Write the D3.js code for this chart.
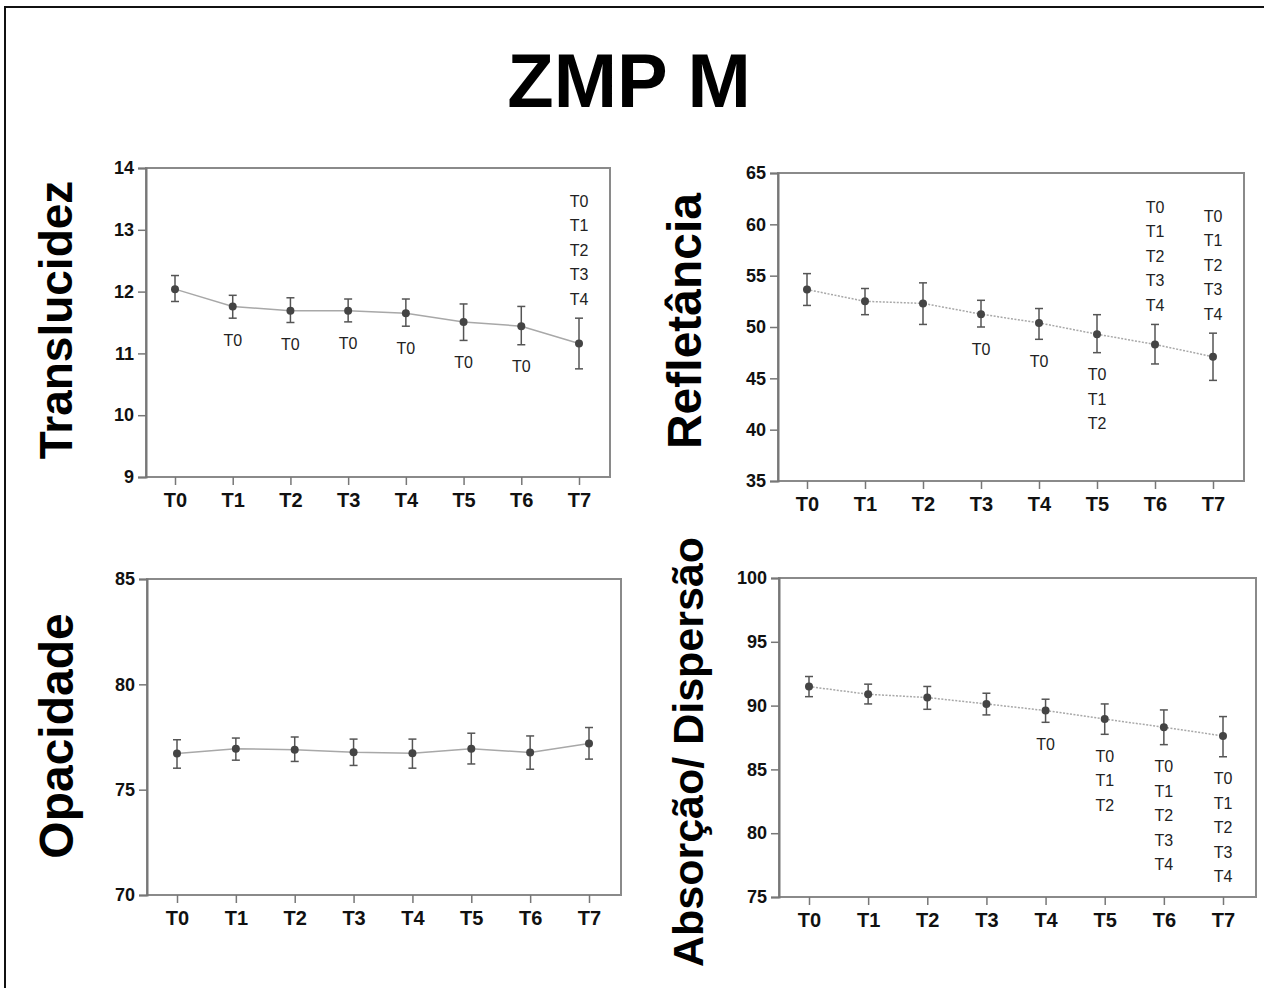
<!DOCTYPE html>
<html>
<head>
<meta charset="utf-8">
<script src="https://cdn.jsdelivr.net/npm/d3@7"></script>
<style>
  body { margin: 0; background: #fff; }
  svg { display: block; font-family: "Liberation Sans", Arial, sans-serif; }
</style>
</head>
<body>
<svg id="chart" width="1264" height="988"></svg>
<script>
// ── data ───────────────────────────────────────────────────────
const categories = ["T0", "T1", "T2", "T3", "T4", "T5", "T6", "T7"];

const translucidezMean = [12.04, 11.76, 11.69, 11.69, 11.65, 11.51, 11.44, 11.16];
const translucidezLow  = [11.84, 11.57, 11.50, 11.51, 11.44, 11.21, 11.14, 10.75];
const translucidezHigh = [12.26, 11.94, 11.90, 11.88, 11.88, 11.80, 11.76, 11.57];

const refletanciaMean = [53.65, 52.5, 52.3, 51.25, 50.4, 49.3, 48.3, 47.1];
const refletanciaLow  = [52.1, 51.2, 50.25, 50.0, 48.8, 47.5, 46.4, 44.8];
const refletanciaHigh = [55.2, 53.75, 54.3, 52.6, 51.8, 51.2, 50.25, 49.4];

const opacidadeMean = [76.72, 76.94, 76.90, 76.78, 76.73, 76.94, 76.77, 77.19];
const opacidadeLow  = [76.02, 76.40, 76.34, 76.15, 76.02, 76.22, 75.97, 76.45];
const opacidadeHigh = [77.37, 77.45, 77.50, 77.40, 77.40, 77.68, 77.55, 77.95];

const absorcaoMean = [91.49, 90.89, 90.63, 90.13, 89.61, 88.95, 88.30, 87.62];
const absorcaoLow  = [90.70, 90.13, 89.71, 89.27, 88.69, 87.75, 86.94, 85.99];
const absorcaoHigh = [92.28, 91.68, 91.50, 90.97, 90.50, 90.13, 89.66, 89.14];

// significance letters: [category, side, labels]
const translucidezSig = [
  ["T1", "below", ["T0"]], ["T2", "below", ["T0"]], ["T3", "below", ["T0"]],
  ["T4", "below", ["T0"]], ["T5", "below", ["T0"]], ["T6", "below", ["T0"]],
  ["T7", "above", ["T0", "T1", "T2", "T3", "T4"]]
];
const refletanciaSig = [
  ["T3", "below", ["T0"]], ["T4", "below", ["T0"]],
  ["T5", "below", ["T0", "T1", "T2"]],
  ["T6", "above", ["T0", "T1", "T2", "T3", "T4"]],
  ["T7", "above", ["T0", "T1", "T2", "T3", "T4"]]
];
const opacidadeSig = [];
const absorcaoSig = [
  ["T4", "below", ["T0"]],
  ["T5", "below", ["T0", "T1", "T2"]],
  ["T6", "below", ["T0", "T1", "T2", "T3", "T4"]],
  ["T7", "below", ["T0", "T1", "T2", "T3", "T4"]]
];

const translucidezTicks = [9, 10, 11, 12, 13, 14];
const refletanciaTicks  = [35, 40, 45, 50, 55, 60, 65];
const opacidadeTicks    = [70, 75, 80, 85];
const absorcaoTicks     = [75, 80, 85, 90, 95, 100];

// ── layout ─────────────────────────────────────────────────────
const panels = [
  { title: "Translucidez", titleX: 56, titleY: 320, titleSize: 46,
    box: [146, 168, 610, 477], xr: [175, 579], dash: null,
    mean: translucidezMean, low: translucidezLow, high: translucidezHigh,
    ticks: translucidezTicks, sig: translucidezSig },
  { title: "Refletância", titleX: 684, titleY: 321, titleSize: 48,
    box: [778, 173, 1244, 481], xr: [807, 1213], dash: "2,1.5",
    mean: refletanciaMean, low: refletanciaLow, high: refletanciaHigh,
    ticks: refletanciaTicks, sig: refletanciaSig },
  { title: "Opacidade", titleX: 56, titleY: 736, titleSize: 48,
    box: [147, 579, 621, 895], xr: [177, 589], dash: null,
    mean: opacidadeMean, low: opacidadeLow, high: opacidadeHigh,
    ticks: opacidadeTicks, sig: opacidadeSig },
  { title: "Absorção/ Dispersão", titleX: 688, titleY: 752, titleSize: 43,
    box: [779, 578, 1256, 897], xr: [809, 1223], dash: "2,1.5",
    mean: absorcaoMean, low: absorcaoLow, high: absorcaoHigh,
    ticks: absorcaoTicks, sig: absorcaoSig }
];

const svg = d3.select("#chart");

// outer frame (right / bottom edges fall outside the picture)
svg.append("rect")
  .attr("x", 5).attr("y", 7)
  .attr("width", 1270).attr("height", 1000)
  .attr("fill", "none").attr("stroke", "#111").attr("stroke-width", 2);

svg.append("text")
  .attr("x", 629).attr("y", 107)
  .attr("text-anchor", "middle")
  .attr("font-size", 76).attr("font-weight", "bold")
  .attr("fill", "#000")
  .text("ZMP M");

panels.forEach(p => {
  const [x0, y0, x1, y1] = p.box;
  const x = d3.scalePoint().domain(categories).range(p.xr);
  const y = d3.scaleLinear().domain(d3.extent(p.ticks)).range([y1, y0]);
  const g = svg.append("g");

  // plot frame
  g.append("rect")
    .attr("x", x0).attr("y", y0)
    .attr("width", x1 - x0).attr("height", y1 - y0)
    .attr("fill", "#fff").attr("stroke", "#8a8a8a").attr("stroke-width", 2);

  // axes
  g.append("g")
    .attr("transform", `translate(${x0},0)`)
    .call(d3.axisLeft(y).tickValues(p.ticks).tickFormat(d3.format("d"))
      .tickSize(8).tickPadding(4))
    .call(a => a.select(".domain").attr("stroke", "#777").attr("stroke-width", 2))
    .call(a => a.selectAll("line").attr("stroke", "#777").attr("stroke-width", 1.5))
    .call(a => a.selectAll("text").attr("font-size", 18).attr("font-weight", "bold")
      .attr("fill", "#111").attr("font-family", "Liberation Sans, Arial, sans-serif"));

  g.append("g")
    .attr("transform", `translate(0,${y1})`)
    .call(d3.axisBottom(x).tickSize(8).tickPadding(8))
    .call(a => a.select(".domain").remove())
    .call(a => a.selectAll("line").attr("stroke", "#777").attr("stroke-width", 1.5))
    .call(a => a.selectAll("text").attr("font-size", 20).attr("font-weight", "bold")
      .attr("fill", "#111").attr("font-family", "Liberation Sans, Arial, sans-serif"));

  // y title
  g.append("text")
    .attr("transform", `translate(${p.titleX},${p.titleY}) rotate(-90)`)
    .attr("text-anchor", "middle")
    .attr("dominant-baseline", "central")
    .attr("font-size", p.titleSize).attr("font-weight", "bold")
    .attr("fill", "#000")
    .text(p.title);

  const rows = categories.map((c, i) => ({ c, m: p.mean[i], lo: p.low[i], hi: p.high[i] }));

  // mean line
  g.append("path")
    .datum(rows)
    .attr("fill", "none")
    .attr("stroke", "#a8a8a8").attr("stroke-width", 1.5)
    .attr("stroke-dasharray", p.dash)
    .attr("d", d3.line().x(d => x(d.c)).y(d => y(d.m)));

  // error bars
  const eb = g.selectAll(".eb").data(rows).enter().append("g")
    .attr("stroke", "#555").attr("stroke-width", 1.5);
  eb.append("line")
    .attr("x1", d => x(d.c)).attr("x2", d => x(d.c))
    .attr("y1", d => y(d.lo)).attr("y2", d => y(d.hi));
  eb.append("line")
    .attr("x1", d => x(d.c) - 4).attr("x2", d => x(d.c) + 4)
    .attr("y1", d => y(d.lo)).attr("y2", d => y(d.lo));
  eb.append("line")
    .attr("x1", d => x(d.c) - 4).attr("x2", d => x(d.c) + 4)
    .attr("y1", d => y(d.hi)).attr("y2", d => y(d.hi));

  g.selectAll(".pt").data(rows).enter().append("circle")
    .attr("cx", d => x(d.c)).attr("cy", d => y(d.m))
    .attr("r", 4).attr("fill", "#444");

  // significance letters
  const LINE = 24.5;
  p.sig.forEach(([c, side, labels]) => {
    const i = categories.indexOf(c);
    labels.forEach((lab, k) => {
      const cy = side === "below"
        ? y(p.low[i]) + 22 + k * LINE
        : y(p.high[i]) - 19 - (labels.length - 1 - k) * LINE;
      g.append("text")
        .attr("x", x(c)).attr("y", cy)
        .attr("text-anchor", "middle")
        .attr("dominant-baseline", "central")
        .attr("font-size", 16).attr("fill", "#222")
        .text(lab);
    });
  });
});
</script>
</body>
</html>
